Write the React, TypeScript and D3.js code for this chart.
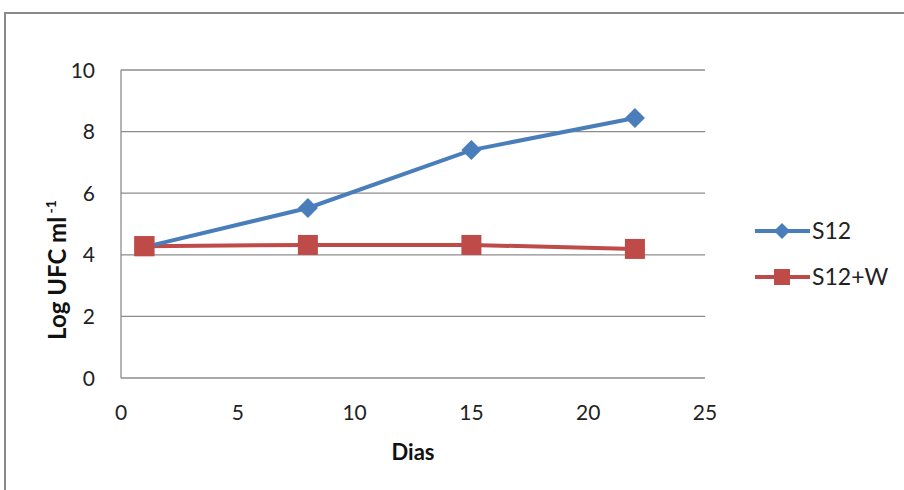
import React from "react";
import * as d3 from "d3";

const days = [1, 8, 15, 22];
const s12 = [4.25, 5.52, 7.4, 8.44];
const s12w = [4.28, 4.32, 4.32, 4.19];
const xTicks = [0, 5, 10, 15, 20, 25];
const yTicks = [0, 2, 4, 6, 8, 10];
const seriesNames = ["S12", "S12+W"];

const W = 904;
const H = 490;
const left = 121;
const right = 705;
const top = 70;
const bottom = 378;
const blue = "#4a7ebb";
const red = "#be4b48";
const font = "Lato, 'Open Sans', sans-serif";

export default function App() {
  const x = d3.scaleLinear().domain([0, 25]).range([left, right]);
  const y = d3.scaleLinear().domain([0, 10]).range([bottom, top]);
  const line = d3
    .line<[number, number]>()
    .x((d) => x(d[0]))
    .y((d) => y(d[1]));
  const blueData: [number, number][] = days.map((d, i) => [d, s12[i]]);
  const redData: [number, number][] = days.map((d, i) => [d, s12w[i]]);
  const diamond = (cx: number, cy: number, r: number) =>
    `M${cx},${cy - r}L${cx + r},${cy}L${cx},${cy + r}L${cx - r},${cy}Z`;

  return (
    <svg
      width={W}
      height={H}
      style={{ position: "absolute", left: 0, top: 0, background: "#fff" }}
      fontFamily={font}
    >
      <rect x={5} y={13} width={W + 10} height={H} fill="#fff" stroke="#8a8a8a" strokeWidth={2} />
      {yTicks.map((t) => (
        <g key={t}>
          <line x1={left} x2={right} y1={y(t)} y2={y(t)} stroke="#8c8c8c" strokeWidth={1.3} />
          <text x={left - 26} y={y(t)} dy="0.36em" textAnchor="end" fontSize={21} fill="#222">
            {t}
          </text>
        </g>
      ))}
      <line x1={left} x2={left} y1={top} y2={bottom} stroke="#8c8c8c" strokeWidth={1.3} />
      {xTicks.map((t) => (
        <text key={t} x={x(t)} y={420} textAnchor="middle" fontSize={21} fill="#222">
          {t}
        </text>
      ))}
      <text x={413} y={460} textAnchor="middle" fontSize={22} fontWeight="bold" fill="#111">
        Dias
      </text>
      <text
        transform="translate(66,270) rotate(-90)"
        textAnchor="middle"
        fontSize={24}
        fontWeight="bold"
        fill="#111"
      >
        Log UFC ml<tspan dy={-10} fontSize={14}> -1</tspan>
      </text>

      <path d={line(redData) ?? ""} fill="none" stroke={red} strokeWidth={4} />
      {redData.map((d, i) => (
        <rect key={i} x={x(d[0]) - 10} y={y(d[1]) - 10} width={20} height={20} fill={red} />
      ))}
      <path d={line(blueData) ?? ""} fill="none" stroke={blue} strokeWidth={4} />
      {blueData.map((d, i) =>
        i === 0 ? null : <path key={i} d={diamond(x(d[0]), y(d[1]), 10)} fill={blue} />
      )}
      <rect x={x(redData[0][0]) - 10} y={y(redData[0][1]) - 10} width={20} height={20} fill={red} />

      {/* legend */}
      <g>
        <line x1={755} x2={810} y1={231} y2={231} stroke={blue} strokeWidth={4} />
        <path d={diamond(782, 231, 8)} fill={blue} />
        <text x={812} y={231} dy="0.36em" fontSize={23} fill="#222">
          {seriesNames[0]}
        </text>
        <line x1={755} x2={810} y1={277} y2={277} stroke={red} strokeWidth={4} />
        <rect x={774} y={269} width={16} height={16} fill={red} />
        <text x={812} y={277} dy="0.36em" fontSize={23} fill="#222">
          {seriesNames[1]}
        </text>
      </g>
    </svg>
  );
}
